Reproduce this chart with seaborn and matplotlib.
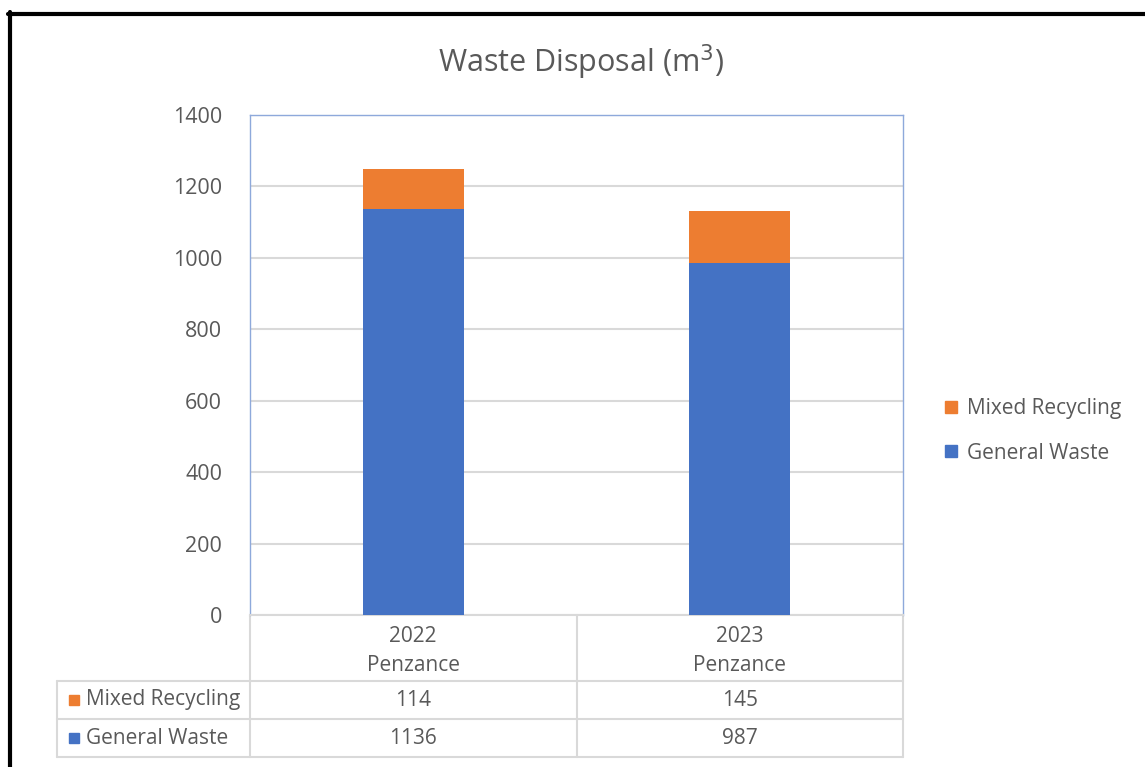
import matplotlib
matplotlib.use("Agg")
import matplotlib.pyplot as plt
import matplotlib.transforms as mtransforms
from matplotlib.lines import Line2D
import seaborn as sns
import pandas as pd

# данные с картинки
categories = ["2022\nPenzance", "2023\nPenzance"]
series_names = ["Mixed Recycling", "General Waste"]
mixed_recycling = [114, 145]
general_waste = [1136, 987]
y_ticks = [0, 200, 400, 600, 800, 1000, 1200, 1400]

BLUE = "#4472C4"
ORANGE = "#ED7D31"
TEXT = "#595959"
GRID = "#D9D9D9"
FS = 15

df = pd.DataFrame({
    "cat": categories,
    "general": general_waste,
    "mixed": mixed_recycling,
})
df["total"] = df["general"] + df["mixed"]

sns.set_theme(style="white")
plt.rcParams["font.family"] = ["Open Sans", "DejaVu Sans"]

fig = plt.figure(figsize=(11.45, 7.67), dpi=100)
ax = fig.add_axes([250 / 1145, 1 - 615 / 767, 653 / 1145, 500 / 767])

# стек: сначала сумма (оранжевый), поверх общий мусор (синий)
sns.barplot(data=df, x="cat", y="total", color=ORANGE, width=0.31,
            saturation=1, linewidth=0, ax=ax, zorder=3)
sns.barplot(data=df, x="cat", y="general", color=BLUE, width=0.31,
            saturation=1, linewidth=0, ax=ax, zorder=4)

ax.set_xlim(-0.5, 1.5)
ax.set_ylim(0, 1400)
ax.set_yticks(y_ticks)
ax.set_yticklabels([str(t) for t in y_ticks], color=TEXT, fontsize=FS + 0.5)
ax.tick_params(axis="y", length=0, pad=20)
ax.set_xticks([])
ax.set_xlabel("")
ax.set_ylabel("")
ax.yaxis.grid(True, color=GRID, linewidth=1.5, zorder=0)
ax.set_axisbelow(True)
for side in ["left", "top", "right"]:
    ax.spines[side].set_color("#8EA9DB")
    ax.spines[side].set_linewidth(1)
ax.spines["bottom"].set_color(GRID)
ax.spines["bottom"].set_linewidth(1.5)

# таблица данных под графиком
tr = mtransforms.blended_transform_factory(ax.transData, ax.transAxes)
x_left_lbl = -0.5 - 193 / 653 * 2
y_hdr = -66 / 500
y_row1 = -104 / 500
y_row2 = -142 / 500
lk = dict(color=GRID, linewidth=1.5, clip_on=False, transform=tr)
for xv in [-0.5, 0.5, 1.5]:
    ax.plot([xv, xv], [0, y_row2], **lk)
ax.plot([x_left_lbl, x_left_lbl], [y_hdr, y_row2], **lk)
for yv in [y_hdr, y_row1, y_row2]:
    ax.plot([x_left_lbl, 1.5], [yv, yv], **lk)

for i, cat in enumerate(categories):
    ax.text(i, y_hdr / 2 - 0.006, cat, ha="center", va="center", color=TEXT,
            fontsize=FS, linespacing=1.5, transform=tr)
    ax.text(i, (y_hdr + y_row1) / 2, str(mixed_recycling[i]), ha="center",
            va="center", color=TEXT, fontsize=FS, transform=tr)
    ax.text(i, (y_row1 + y_row2) / 2, str(general_waste[i]), ha="center",
            va="center", color=TEXT, fontsize=FS, transform=tr)

row_colors = [ORANGE, BLUE]
for name, col, (ya, yb) in zip(series_names, row_colors,
                               [(y_hdr, y_row1), (y_row1, y_row2)]):
    ym = (ya + yb) / 2
    ax.plot([x_left_lbl + 0.052], [ym], marker="s", markersize=7.5,
            color=col, linestyle="none", clip_on=False, transform=tr)
    ax.text(x_left_lbl + 0.088, ym, name, ha="left", va="center",
            color=TEXT, fontsize=FS, transform=tr)

# легенда справа
handles = [Line2D([], [], marker="s", markersize=8, color=c, linestyle="none")
           for c in row_colors]
leg = fig.legend(handles, series_names, loc="center left",
                 bbox_to_anchor=(922 / 1145, 1 - 431 / 767), frameon=False,
                 fontsize=FS, handletextpad=0.25, labelspacing=1.12,
                 handlelength=1.0)
for t in leg.get_texts():
    t.set_color(TEXT)

fig.text(0.507, 1 - 62 / 767, "Waste Disposal (m$^3$)", ha="center",
         va="center", color=TEXT, fontsize=22)

# чёрная рамка сверху и слева (как на скриншоте)
fig.add_artist(Line2D([10 / 1145, 10 / 1145], [0, 1 - 12 / 767],
                      color="black", linewidth=3, transform=fig.transFigure))
fig.add_artist(Line2D([8 / 1145, 1], [1 - 14 / 767, 1 - 14 / 767],
                      color="black", linewidth=3, transform=fig.transFigure))

fig.savefig("out.png", dpi=100, facecolor="white")
